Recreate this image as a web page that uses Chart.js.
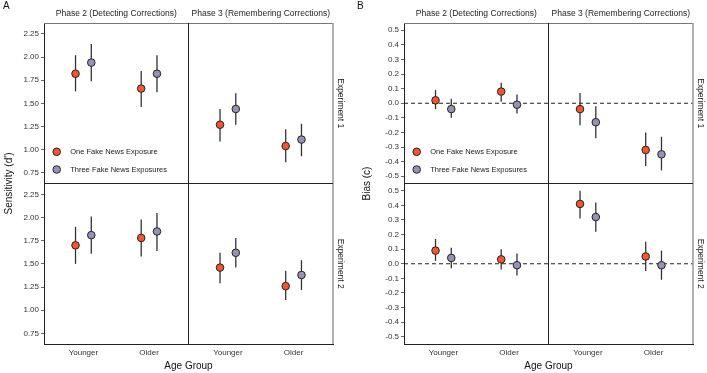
<!DOCTYPE html>
<html lang="en">
<head>
<meta charset="UTF-8" />
<title>Sensitivity and Bias</title>
<script src="https://cdn.jsdelivr.net/npm/chart.js"></script>
<style>
  body { margin: 0; background: #fff; }
  #wrap { position: relative; width: 707px; height: 373px; }
  canvas { position: absolute; top: 0; }
  #panelA { left: 0; }
  #panelB { left: 353px; }
</style>
</head>
<body>
<div id="wrap">
  <canvas id="panelA" width="353" height="373"></canvas>
  <canvas id="panelB" width="354" height="373"></canvas>
</div>
<script>
const ageGroups = ["Younger", "Older"];
const phases = ["Phase 2 (Detecting Corrections)", "Phase 3 (Remembering Corrections)"];
const experiments = ["Experiment 1", "Experiment 2"];
const exposures = ["One Fake News Exposure", "Three Fake News Exposures"];
const exposureColors = ["#F4552E", "#9592B6"];

// facets: Exp1-Phase2, Exp1-Phase3, Exp2-Phase2, Exp2-Phase3 ; each [Younger, Older]
const sensOne     = [[1.82, 1.66], [1.27, 1.04], [1.70, 1.78], [1.46, 1.26]];
const sensOneLo   = [[1.63, 1.46], [1.09, 0.865], [1.50, 1.58], [1.29, 1.11]];
const sensOneHi   = [[2.02, 1.85], [1.44, 1.22], [1.90, 1.98], [1.62, 1.425]];
const sensThree   = [[1.94, 1.82], [1.44, 1.11], [1.81, 1.85], [1.62, 1.38]];
const sensThreeLo = [[1.74, 1.62], [1.27, 0.93], [1.61, 1.64], [1.46, 1.22]];
const sensThreeHi = [[2.14, 2.02], [1.61, 1.28], [2.01, 2.05], [1.78, 1.54]];

const biasOne     = [[0.02, 0.08], [-0.04, -0.32], [0.09, 0.03], [0.41, 0.05]];
const biasOneLo   = [[-0.04, 0.01], [-0.15, -0.43], [0.02, -0.04], [0.31, -0.05]];
const biasOneHi   = [[0.09, 0.14], [0.07, -0.20], [0.17, 0.10], [0.50, 0.15]];
const biasThree   = [[-0.04, -0.01], [-0.13, -0.35], [0.04, -0.01], [0.32, -0.01]];
const biasThreeLo = [[-0.10, -0.07], [-0.24, -0.46], [-0.03, -0.08], [0.22, -0.11]];
const biasThreeHi = [[0.03, 0.06], [-0.02, -0.23], [0.11, 0.07], [0.42, 0.09]];

const sensTicks = [0.75, 1.00, 1.25, 1.50, 1.75, 2.00, 2.25];
const biasTicks = [-0.5, -0.4, -0.3, -0.2, -0.1, 0, 0.1, 0.2, 0.3, 0.4, 0.5];

const FONT = '"Liberation Sans", Arial, sans-serif';
const dodge = 0.12;

function makePanel(id, o) {
  const datasets = [];
  [0, 1, 2, 3].forEach(f => {
    const row = Math.floor(f / 2), col = f % 2;
    o.series.forEach((s, k) => {
      datasets.push({
        label: exposures[k],
        xAxisID: "x" + col,
        yAxisID: "y" + row,
        data: s.mean[f].map((v, j) => ({ x: j + 1 + (k === 0 ? -dodge : dodge), y: v })),
        lo: s.lo[f],
        hi: s.hi[f],
        backgroundColor: exposureColors[k],
        borderColor: "#222",
        borderWidth: 1,
        pointRadius: 3.8
      });
    });
  });

  const scales = {};
  [0, 1].forEach(c => {
    scales["x" + c] = {
      type: "linear", position: "bottom", stack: "cols", stackWeight: 1, weight: c + 1,
      min: 0.4, max: 2.6,
      afterBuildTicks: s => { s.ticks = ageGroups.map((g, i) => ({ value: i + 1 })); },
      afterFit: s => { s.height = 29; s.paddingLeft = 0; s.paddingRight = 0; },
      ticks: {
        callback: v => ageGroups[Math.round(v) - 1],
        font: { family: FONT, size: 8 }, color: "#333", padding: 4,
        maxRotation: 0, autoSkip: false
      },
      grid: { display: false, drawTicks: false, tickLength: 0 },
      border: { display: true, color: "#222", width: 1 }
    };
  });
  [0, 1].forEach(r => {
    scales["y" + r] = {
      type: "linear", position: "left", stack: "rows", stackWeight: 1, weight: 2 - r,
      min: o.yMin, max: o.yMax,
      afterBuildTicks: s => { s.ticks = o.ticks.map(v => ({ value: v })); },
      afterFit: s => { s.width = o.yWidth; s.paddingTop = 0; s.paddingBottom = 0; },
      ticks: {
        callback: v => v.toFixed(o.decimals),
        font: { family: FONT, size: 8 }, color: "#333", padding: 2, autoSkip: false
      },
      grid: { drawOnChartArea: false, tickLength: 3, color: "#666" },
      border: { display: true, color: "#222", width: 1 }
    };
  });

  const facetPlugin = {
    id: "facets",
    beforeDatasetsDraw(chart) {
      const { ctx, scales: sc } = chart;
      ctx.save();
      if (o.zeroLine) {
        ctx.strokeStyle = "#222";
        ctx.lineWidth = 1;
        ctx.setLineDash([4, 3]);
        ["y0", "y1"].forEach(yId => {
          const y = sc[yId].getPixelForValue(0);
          ctx.beginPath();
          ctx.moveTo(chart.chartArea.left, y);
          ctx.lineTo(chart.chartArea.right, y);
          ctx.stroke();
        });
        ctx.setLineDash([]);
      }
      ctx.strokeStyle = "#333";
      ctx.lineWidth = 1.3;
      chart.data.datasets.forEach(ds => {
        const xs = sc[ds.xAxisID], ys = sc[ds.yAxisID];
        ds.data.forEach((p, j) => {
          const x = xs.getPixelForValue(p.x);
          ctx.beginPath();
          ctx.moveTo(x, ys.getPixelForValue(ds.lo[j]));
          ctx.lineTo(x, ys.getPixelForValue(ds.hi[j]));
          ctx.stroke();
        });
      });
      ctx.restore();
    },
    afterDraw(chart) {
      const { ctx, chartArea: a, scales: sc } = chart;
      ctx.save();
      // frame
      ctx.lineWidth = 1;
      ctx.strokeStyle = "#777";
      ctx.beginPath(); ctx.moveTo(a.left, a.top + 0.5); ctx.lineTo(a.right, a.top + 0.5); ctx.stroke();
      ctx.strokeStyle = "#999";
      ctx.lineWidth = 1.5;
      ctx.beginPath(); ctx.moveTo(a.right, a.top); ctx.lineTo(a.right, a.bottom); ctx.stroke();
      ctx.strokeStyle = "#222";
      ctx.lineWidth = 1;
      const midX = sc.x0.right, midY = sc.y0.bottom;
      ctx.beginPath(); ctx.moveTo(midX, a.top); ctx.lineTo(midX, a.bottom); ctx.stroke();
      ctx.beginPath(); ctx.moveTo(a.left, midY); ctx.lineTo(a.right, midY); ctx.stroke();

      // strip labels
      ctx.fillStyle = "#1a1a1a";
      ctx.font = "8.5px " + FONT;
      ctx.textAlign = "center";
      ctx.textBaseline = "middle";
      [sc.x0, sc.x1].forEach((s, i) => ctx.fillText(phases[i], (s.left + s.right) / 2, 14));
      [sc.y0, sc.y1].forEach((s, i) => {
        ctx.save();
        ctx.translate(a.right + 7, (s.top + s.bottom) / 2);
        ctx.rotate(Math.PI / 2);
        ctx.fillText(experiments[i], 0, 0);
        ctx.restore();
      });

      // axis titles
      ctx.fillStyle = "#111";
      ctx.font = "10px " + FONT;
      ctx.fillText("Age Group", (a.left + a.right) / 2, 366);
      ctx.save();
      ctx.translate(o.yTitleX, (a.top + a.bottom) / 2);
      ctx.rotate(-Math.PI / 2);
      ctx.fillText(o.yTitle, 0, 0);
      ctx.restore();

      // panel letter
      ctx.textAlign = "left";
      ctx.font = "10px " + FONT;
      ctx.fillText(o.letter, o.letterX, 6);

      // legend
      ctx.font = "7.5px " + FONT;
      exposures.forEach((name, k) => {
        const cx = a.left + 12.7, cy = midY - 31.7 + k * 17.7;
        ctx.beginPath();
        ctx.arc(cx, cy, 3.8, 0, Math.PI * 2);
        ctx.fillStyle = exposureColors[k];
        ctx.fill();
        ctx.strokeStyle = "#222";
        ctx.lineWidth = 1;
        ctx.stroke();
        ctx.fillStyle = "#1a1a1a";
        ctx.fillText(name, cx + 13.5, cy);
      });
      ctx.restore();
    }
  };

  return new Chart(document.getElementById(id), {
    type: "scatter",
    data: { datasets },
    options: {
      responsive: false,
      animation: false,
      devicePixelRatio: 1,
      layout: { padding: { top: 23, right: o.padRight, left: 0, bottom: 0 } },
      scales,
      plugins: { legend: { display: false }, tooltip: { enabled: false } }
    },
    plugins: [facetPlugin]
  });
}

makePanel("panelA", {
  letter: "A", letterX: 3, yTitle: "Sensitivity (d')", yTitleX: 9,
  yMin: 0.636, yMax: 2.367, ticks: sensTicks, decimals: 2,
  yWidth: 44, padRight: 20, zeroLine: false,
  series: [
    { mean: sensOne, lo: sensOneLo, hi: sensOneHi },
    { mean: sensThree, lo: sensThreeLo, hi: sensThreeHi }
  ]
});

makePanel("panelB", {
  letter: "B", letterX: 4, yTitle: "Bias (c)", yTitleX: 14,
  yMin: -0.55, yMax: 0.55, ticks: biasTicks, decimals: 1,
  yWidth: 51, padRight: 14, zeroLine: true,
  series: [
    { mean: biasOne, lo: biasOneLo, hi: biasOneHi },
    { mean: biasThree, lo: biasThreeLo, hi: biasThreeHi }
  ]
});
</script>
</body>
</html>
